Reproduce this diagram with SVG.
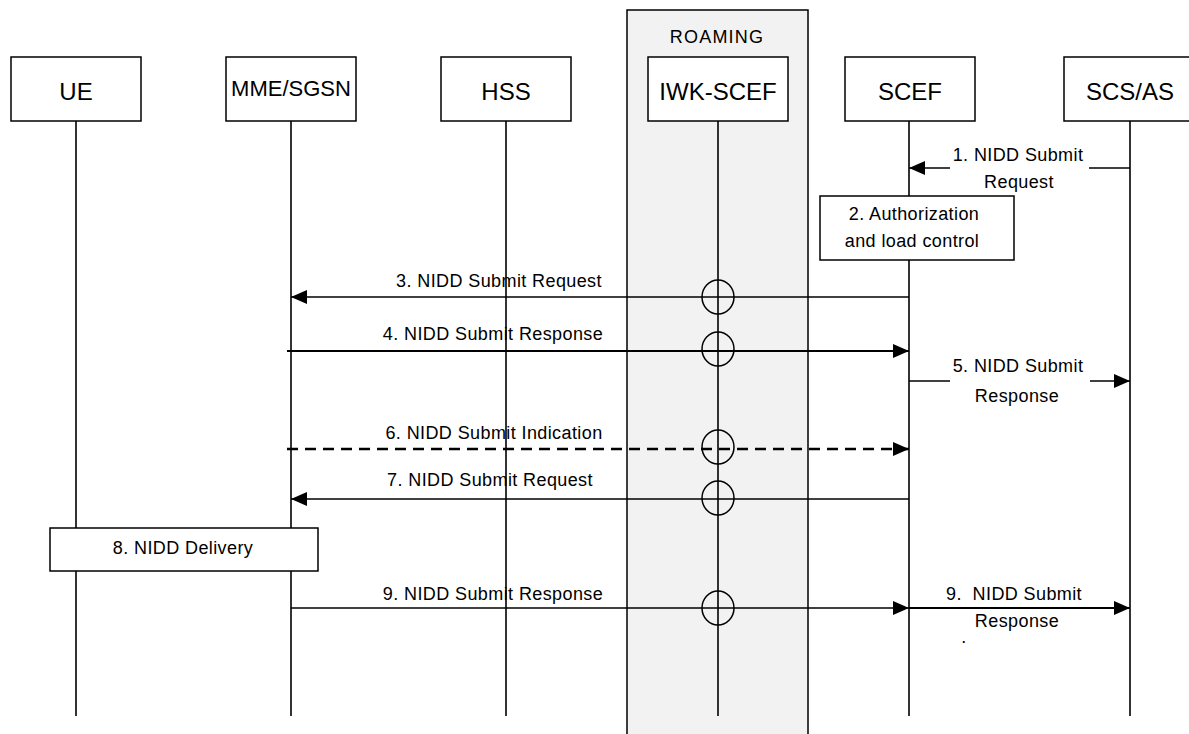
<svg xmlns="http://www.w3.org/2000/svg" width="1189" height="734" viewBox="0 0 1189 734">
<style>
.box{fill:#fff;stroke:#000;stroke-width:1.5}
.life{stroke:#000;stroke-width:1.6;fill:none}
.msg{stroke:#000;stroke-width:1.6;fill:none}
.thick{stroke-width:2.2}
.dash{stroke-dasharray:11 7;stroke-width:2.4}
.ring{fill:none;stroke:#000;stroke-width:1.5}
.nt{font-family:"Liberation Sans",Arial,sans-serif;font-size:24px;text-anchor:middle;fill:#000}
.lb{font-family:"Liberation Sans",Arial,sans-serif;font-size:18px;letter-spacing:0.4px;text-anchor:middle;fill:#000}
</style>
<defs>
<marker id="ah" markerUnits="userSpaceOnUse" viewBox="0 0 16 14" refX="16" refY="7" markerWidth="16" markerHeight="14" orient="auto">
<path d="M0,0 L16,7 L0,14 z" fill="#000"/>
</marker>
</defs>
<g id="roaming">
<rect x="627" y="10" width="181" height="730" fill="#f2f2f2" stroke="#000" stroke-width="1.5"/>
<text class="lb" x="717" y="43" style="letter-spacing:1.2px">ROAMING</text>
</g>
<g id="lifelines">
<line class="life" x1="76" y1="121" x2="76" y2="716"/>
<line class="life" x1="291" y1="121" x2="291" y2="716"/>
<line class="life" x1="506" y1="121" x2="506" y2="716"/>
<line class="life" x1="718" y1="121" x2="718" y2="716"/>
<line class="life" x1="909" y1="121" x2="909" y2="716"/>
<line class="life" x1="1130" y1="121" x2="1130" y2="716"/>
</g>
<g id="node-ue"><rect class="box" x="11" y="57" width="130" height="64"/><text class="nt" x="76" y="100">UE</text></g>
<g id="node-mme"><rect class="box" x="226" y="57" width="130" height="64"/><text class="nt" x="291" y="96" style="font-size:22px">MME/SGSN</text></g>
<g id="node-hss"><rect class="box" x="441" y="57" width="130" height="64"/><text class="nt" x="506" y="100">HSS</text></g>
<g id="node-iwk"><rect class="box" x="648" y="57" width="140" height="64"/><text class="nt" x="718" y="100">IWK-SCEF</text></g>
<g id="node-scef"><rect class="box" x="845" y="57" width="130" height="64"/><text class="nt" x="910" y="100">SCEF</text></g>
<g id="node-scs"><rect class="box" x="1064" y="57" width="130" height="64"/><text class="nt" x="1130" y="100">SCS/AS</text></g>
<g id="connectors">
<line class="msg" x1="1130" y1="168" x2="1089" y2="168"/>
<line class="msg" x1="950" y1="168" x2="909" y2="168" marker-end="url(#ah)"/>
<line class="msg" x1="909" y1="297" x2="291" y2="297" marker-end="url(#ah)"/>
<line class="msg thick" x1="287" y1="351" x2="909" y2="351" marker-end="url(#ah)"/>
<line class="msg" x1="909" y1="381" x2="950" y2="381"/>
<line class="msg" x1="1090" y1="381" x2="1130" y2="381" marker-end="url(#ah)"/>
<line class="msg dash" x1="287" y1="449" x2="909" y2="449" marker-end="url(#ah)"/>
<line class="msg" x1="909" y1="499" x2="291" y2="499" marker-end="url(#ah)"/>
<line class="msg" x1="291" y1="608" x2="909" y2="608" marker-end="url(#ah)"/>
<line class="msg thick" x1="909" y1="608" x2="1130" y2="608" marker-end="url(#ah)"/>
<ellipse class="ring" cx="718" cy="297" rx="16" ry="17"/>
<ellipse class="ring" cx="718" cy="349" rx="16" ry="17"/>
<ellipse class="ring" cx="718" cy="447" rx="16" ry="17"/>
<ellipse class="ring" cx="718" cy="498" rx="16" ry="17"/>
<ellipse class="ring" cx="718" cy="608" rx="16" ry="17"/>
</g>
<g id="labels">
<text class="lb" x="1018" y="161">1. NIDD Submit</text>
<text class="lb" x="1019" y="188">Request</text>
<text class="lb" x="499" y="287">3. NIDD Submit Request</text>
<text class="lb" x="493" y="340">4. NIDD Submit Response</text>
<text class="lb" x="1018" y="372">5. NIDD Submit</text>
<text class="lb" x="1017" y="402">Response</text>
<text class="lb" x="494" y="439">6. NIDD Submit Indication</text>
<text class="lb" x="490" y="486">7. NIDD Submit Request</text>
<text class="lb" x="493" y="600">9. NIDD Submit Response</text>
<text class="lb" x="1014" y="600" xml:space="preserve">9.  NIDD Submit</text>
<text class="lb" x="1017" y="627">Response</text>
<text class="lb" x="964" y="643">.</text>
</g>
<g id="step-2">
<rect class="box" x="820" y="196" width="194" height="64"/>
<text class="lb" x="914" y="220">2. Authorization</text>
<text class="lb" x="912" y="247">and load control</text>
</g>
<g id="step-8">
<rect class="box" x="50" y="528" width="268" height="43"/>
<text class="lb" x="183" y="554">8. NIDD Delivery</text>
</g>
</svg>
